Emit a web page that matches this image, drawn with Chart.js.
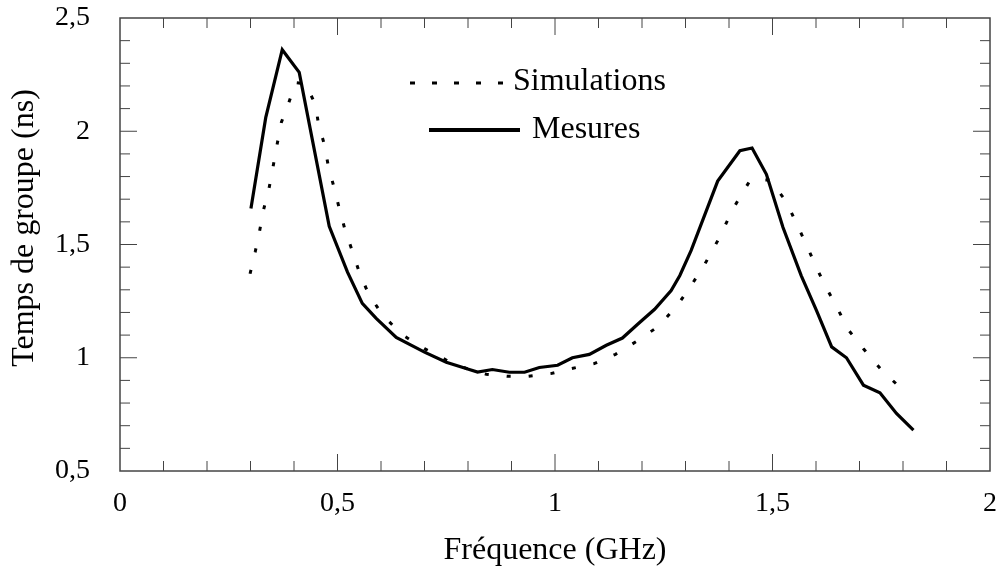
<!DOCTYPE html>
<html>
<head>
<meta charset="utf-8">
<script src="https://cdn.jsdelivr.net/npm/chart.js@4/dist/chart.umd.min.js"></script>
<style>
  html, body { margin: 0; padding: 0; background: #fff; }
  #wrap { width: 997px; height: 570px; }
</style>
</head>
<body>
<div id="wrap"><canvas id="chart" width="997" height="570"></canvas></div>
<script>
// Fréquence (GHz) / temps de groupe (ns)
const mesuresX = [0.301, 0.335, 0.373, 0.412, 0.481, 0.523, 0.557, 0.589, 0.635, 0.70, 0.75, 0.803,
  0.822, 0.856, 0.895, 0.930, 0.964, 1.006, 1.040, 1.079, 1.118, 1.155, 1.19, 1.229, 1.267, 1.287,
  1.313, 1.374, 1.425, 1.453, 1.486, 1.524, 1.566, 1.601, 1.636, 1.67, 1.709, 1.747, 1.785, 1.824]
const mesuresY = [1.659, 2.06, 2.36, 2.26, 1.58, 1.378, 1.24, 1.174, 1.09, 1.025, 0.98, 0.948,
  0.937, 0.948, 0.936, 0.936, 0.957, 0.967, 1.0, 1.015, 1.055, 1.087, 1.148, 1.214, 1.297, 1.363,
  1.474, 1.78, 1.914, 1.926, 1.81, 1.576, 1.363, 1.209, 1.048, 1.0, 0.879, 0.845, 0.754, 0.68]

const simX = [0.299, 0.311, 0.321, 0.33, 0.343, 0.352, 0.361, 0.371, 0.387, 0.404, 0.426, 0.449,
  0.456, 0.470, 0.479, 0.492, 0.504, 0.518, 0.535, 0.55, 0.571, 0.604, 0.65, 0.70, 0.75, 0.80,
  0.842, 0.89, 0.939, 0.99, 1.037, 1.09, 1.139, 1.188, 1.238, 1.281, 1.313, 1.344, 1.375, 1.41,
  1.449, 1.494, 1.532, 1.553, 1.578, 1.597, 1.62, 1.646, 1.674, 1.709, 1.751, 1.80]
const simY = [1.371, 1.469, 1.56, 1.653, 1.752, 1.845, 1.94, 2.04, 2.12, 2.215, 2.21, 2.12,
  2.035, 1.94, 1.845, 1.752, 1.66, 1.56, 1.466, 1.378, 1.283, 1.187, 1.10, 1.04, 0.99, 0.95,
  0.927, 0.918, 0.918, 0.93, 0.952, 0.974, 1.015, 1.073, 1.139, 1.231, 1.319, 1.412, 1.52, 1.66,
  1.785, 1.785, 1.689, 1.601, 1.499, 1.415, 1.322, 1.231, 1.124, 1.04, 0.945, 0.857]

const xTicks = [0, 0.5, 1, 1.5, 2]
const yTicks = [0.5, 1, 1.5, 2, 2.5]
const seriesNames = ['Simulations', 'Mesures']
const yTitle = 'Temps de groupe (ns)'

const toPoints = (xs, ys) => xs.map((x, i) => ({ x, y: ys[i] }))
const fmtComma = v => String(+v.toFixed(2)).replace('.', ',')
const SERIF = '"Liberation Serif", "DejaVu Serif", serif'

// box with inward ticks, y title (sits a bit above centre) and hand placed legend
const framePlugin = {
  id: 'frame',
  afterDatasetsDraw(chart) {
    const { ctx, chartArea: a, scales: { x, y } } = chart
    ctx.save()
    ctx.strokeStyle = '#444'
    ctx.lineWidth = 1.5
    ctx.strokeRect(a.left, a.top, a.right - a.left, a.bottom - a.top)
    ctx.lineWidth = 1
    for (let i = 1; i < 20; i++) {
      const v = i / 10
      const len = i % 5 === 0 ? 17 : 10
      const px = x.getPixelForValue(v)
      ctx.beginPath()
      ctx.moveTo(px, a.bottom); ctx.lineTo(px, a.bottom - len)
      ctx.moveTo(px, a.top); ctx.lineTo(px, a.top + len)
      ctx.stroke()
    }
    for (let i = 6; i < 25; i++) {
      const v = i / 10
      const len = i % 5 === 0 ? 17 : 10
      const py = y.getPixelForValue(v)
      ctx.beginPath()
      ctx.moveTo(a.left, py); ctx.lineTo(a.left + len, py)
      ctx.moveTo(a.right, py); ctx.lineTo(a.right - len, py)
      ctx.stroke()
    }

    ctx.fillStyle = '#000'
    ctx.font = '32px ' + SERIF
    ctx.textBaseline = 'middle'

    // y title
    ctx.save()
    ctx.translate(25, 228)
    ctx.rotate(-Math.PI / 2)
    ctx.textAlign = 'center'
    ctx.fillText(yTitle, 0, 0)
    ctx.restore()

    // legend
    ctx.strokeStyle = '#000'
    ctx.lineWidth = 3
    ctx.setLineDash([5, 17])
    ctx.beginPath(); ctx.moveTo(410, 83); ctx.lineTo(505, 83); ctx.stroke()
    ctx.setLineDash([])
    ctx.lineWidth = 4
    ctx.beginPath(); ctx.moveTo(429, 130); ctx.lineTo(520, 130); ctx.stroke()
    ctx.fillText(seriesNames[0], 513, 82)
    ctx.fillText(seriesNames[1], 532, 130)
    ctx.restore()
  }
}

new Chart(document.getElementById('chart'), {
  type: 'scatter',
  data: {
    datasets: [
      {
        label: seriesNames[0],
        data: toPoints(simX, simY),
        showLine: true,
        borderColor: '#000',
        borderWidth: 3,
        borderDash: [4, 18],
        pointRadius: 0,
        tension: 0
      },
      {
        label: seriesNames[1],
        data: toPoints(mesuresX, mesuresY),
        showLine: true,
        borderColor: '#000',
        borderWidth: 3.2,
        pointRadius: 0,
        tension: 0
      }
    ]
  },
  options: {
    responsive: false,
    animation: false,
    layout: { padding: { top: 18, right: 7, left: 0, bottom: 0 } },
    plugins: { legend: { display: false }, tooltip: { enabled: false } },
    scales: {
      x: {
        type: 'linear', min: 0, max: 2,
        afterBuildTicks: s => { s.ticks = xTicks.map(v => ({ value: v })) },
        afterFit: s => { s.height = 99; s.paddingLeft = 0; s.paddingRight = 0 },
        grid: { display: false },
        border: { display: false },
        ticks: { color: '#000', padding: 8, font: { family: SERIF, size: 28 }, callback: v => fmtComma(v), maxRotation: 0 },
        title: { display: true, text: 'Fréquence (GHz)', color: '#000', font: { family: SERIF, size: 32 }, padding: 0 }
      },
      y: {
        type: 'linear', min: 0.5, max: 2.5,
        afterBuildTicks: s => { s.ticks = yTicks.map(v => ({ value: v })) },
        afterFit: s => { s.width = 120; s.paddingTop = 0; s.paddingBottom = 0 },
        grid: { display: false },
        border: { display: false },
        ticks: { color: '#000', padding: 22, font: { family: SERIF, size: 28 }, callback: v => fmtComma(v) },
        title: { display: false }
      }
    }
  },
  plugins: [framePlugin]
})
</script>
</body>
</html>
